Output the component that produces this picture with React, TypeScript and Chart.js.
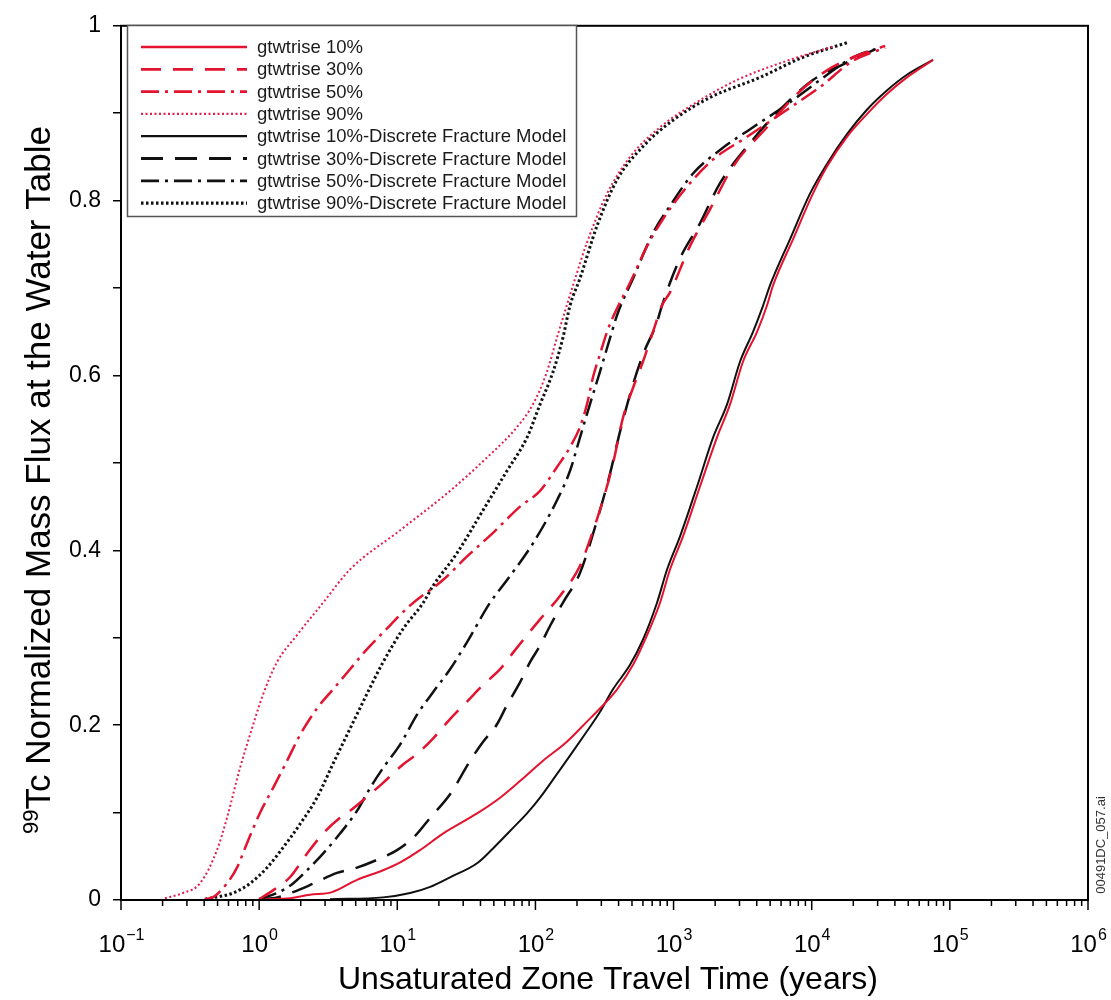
import { useEffect, useRef } from 'react';
import { Chart, registerables } from 'chart.js';

Chart.register(...registerables);

const FONT = '"Liberation Sans", Arial, Helvetica, sans-serif';
const RED = '#e4132f';
const RED_DOT = '#e2204f';
const BLACK = '#111111';

// [travel time (years), normalized mass flux]
const gtw10 = [
  [1.1, 0.001], [1.67, 0.002], [2.33, 0.006], [3.37, 0.009], [5.11, 0.023], [7.89, 0.034], [10.5, 0.043],
  [14.6, 0.057], [21.4, 0.076], [37.8, 0.099], [55.5, 0.117], [77.3, 0.136], [113, 0.159], [169, 0.181],
  [236, 0.204], [293, 0.219], [390, 0.241], [509, 0.269], [643, 0.303], [798, 0.34], [942, 0.378],
  [1170, 0.416], [1553, 0.473], [2060, 0.529], [2563, 0.567], [3185, 0.616], [4020, 0.65], [4746, 0.68],
  [5250, 0.703], [7330, 0.756], [10200, 0.808], [12900, 0.839], [18000, 0.873], [25100, 0.899],
  [35000, 0.922], [48900, 0.941], [75500, 0.961],
];
const gtw30 = [
  [1.0, 0.001], [1.26, 0.011], [1.67, 0.026], [2.22, 0.053], [2.9, 0.076], [3.85, 0.094], [4.55, 0.102],
  [6.35, 0.121], [7.89, 0.134], [11.0, 0.155], [13.9, 0.167], [18.2, 0.185], [24.1, 0.207], [32.0, 0.227],
  [41.8, 0.246], [55.5, 0.264], [68.9, 0.283], [86.9, 0.303], [108, 0.321], [151, 0.348], [210, 0.382],
  [248, 0.412], [308, 0.457], [364, 0.499], [431, 0.552], [509, 0.586], [601, 0.616], [710, 0.65],
  [824, 0.68], [942, 0.695], [1314, 0.748], [1835, 0.79], [2694, 0.839], [4746, 0.884], [7830, 0.922],
  [12900, 0.949], [19900, 0.964], [34000, 0.977],
];
const gtw50 = [
  [0.405, 0.001], [0.463, 0.003], [0.585, 0.019], [0.691, 0.037], [0.817, 0.065], [1.01, 0.099],
  [1.26, 0.128], [1.59, 0.159], [1.98, 0.189], [2.62, 0.219], [3.43, 0.241], [4.55, 0.264], [6.04, 0.287],
  [7.89, 0.306], [12.4, 0.337], [21.4, 0.366], [32.0, 0.393], [49.3, 0.42], [77.3, 0.45], [108, 0.468],
  [143, 0.495], [178, 0.518], [210, 0.541], [236, 0.567], [261, 0.598], [293, 0.624], [330, 0.65],
  [377, 0.672], [484, 0.706], [643, 0.748], [839, 0.779], [1252, 0.816], [1930, 0.847], [3405, 0.873],
  [6630, 0.904], [11500, 0.93], [19900, 0.96], [34000, 0.975],
];
const gtw90 = [
  [0.208, 0.002], [0.281, 0.008], [0.373, 0.019], [0.495, 0.057], [0.585, 0.094], [0.727, 0.151],
  [0.859, 0.189], [1.067, 0.235], [1.346, 0.272], [1.879, 0.303], [2.9, 0.34], [4.54, 0.378], [10.5, 0.423],
  [24.1, 0.468], [41.8, 0.502], [73.6, 0.541], [96, 0.567], [121, 0.604], [143, 0.643], [187, 0.703],
  [236, 0.752], [330, 0.808], [484, 0.85], [798, 0.884], [1383, 0.91], [2880, 0.938], [6620, 0.96],
  [14750, 0.977],
];
const gtw10dfm = [
  [3.26, 0.001], [7.89, 0.003], [12.4, 0.008], [17.3, 0.015], [24.1, 0.026], [37.8, 0.042], [49.3, 0.059],
  [65.5, 0.079], [86.9, 0.099], [108, 0.117], [143, 0.144], [187, 0.17], [236, 0.193], [293, 0.215],
  [364, 0.241], [484, 0.269], [601, 0.298], [759, 0.34], [897, 0.378], [1114, 0.416], [1479, 0.473],
  [1930, 0.529], [2438, 0.567], [3030, 0.616], [3760, 0.65], [4446, 0.68], [4990, 0.703], [6970, 0.756],
  [9720, 0.808], [12900, 0.842], [18000, 0.876], [25100, 0.904], [35000, 0.926], [48900, 0.944],
  [75500, 0.961],
];
const gtw30dfm = [
  [1.0, 0.001], [1.35, 0.003], [1.76, 0.009], [2.33, 0.017], [3.66, 0.031], [5.11, 0.037], [7.89, 0.049],
  [9.96, 0.057], [13.4, 0.073], [17.3, 0.094], [24.1, 0.121], [33.6, 0.159], [41.8, 0.181], [52.7, 0.201],
  [62.3, 0.223], [77.3, 0.249], [91.4, 0.272], [108, 0.291], [128, 0.314], [158, 0.34], [210, 0.374],
  [279, 0.434], [347, 0.488], [410, 0.536], [500, 0.586], [601, 0.624], [759, 0.661], [824, 0.68],
  [1114, 0.734], [1553, 0.774], [2170, 0.82], [3760, 0.87], [5890, 0.904], [10200, 0.938], [16900, 0.956],
  [28700, 0.973],
];
const gtw50dfm = [
  [1.0, 0.001], [1.35, 0.008], [1.76, 0.019], [2.22, 0.034], [2.9, 0.053], [3.85, 0.076], [5.11, 0.102],
  [6.35, 0.128], [7.89, 0.151], [10.5, 0.178], [13.9, 0.212], [18.2, 0.238], [24.1, 0.264], [32.0, 0.295],
  [46.9, 0.34], [62.3, 0.366], [96, 0.408], [143, 0.457], [178, 0.491], [210, 0.529], [248, 0.567],
  [293, 0.604], [347, 0.643], [396, 0.672], [509, 0.711], [710, 0.763], [942, 0.794], [1383, 0.831],
  [2170, 0.858], [3760, 0.884], [6630, 0.91], [11500, 0.938], [19900, 0.964], [31200, 0.975],
];
const gtw90dfm = [
  [0.405, 0.001], [0.647, 0.008], [0.859, 0.019], [1.14, 0.037], [1.49, 0.06], [1.98, 0.087], [2.62, 0.117],
  [3.43, 0.156], [4.55, 0.196], [6.04, 0.236], [7.89, 0.272], [11.0, 0.31], [15.4, 0.34], [18.1, 0.359],
  [27.1, 0.397], [41.8, 0.446], [62.3, 0.491], [86.9, 0.529], [108, 0.567], [134, 0.604], [158, 0.643],
  [178, 0.68], [210, 0.711], [279, 0.771], [390, 0.824], [601, 0.862], [991, 0.892], [1835, 0.918],
  [4225, 0.941], [8650, 0.964], [18300, 0.981],
];

const seriesLabels = [
  'gtwtrise 10%',
  'gtwtrise 30%',
  'gtwtrise 50%',
  'gtwtrise 90%',
  'gtwtrise 10%-Discrete Fracture Model',
  'gtwtrise 30%-Discrete Fracture Model',
  'gtwtrise 50%-Discrete Fracture Model',
  'gtwtrise 90%-Discrete Fracture Model',
];
const seriesData = [gtw10, gtw30, gtw50, gtw90, gtw10dfm, gtw30dfm, gtw50dfm, gtw90dfm];

const xTickExponents = [-1, 0, 1, 2, 3, 4, 5, 6];
const yMin = 0;
const yMax = 1;
const yStep = 0.1;

const xTitle = 'Unsaturated Zone Travel Time (years)';
const yTitleSup = '99';
const yTitleMain = 'Tc Normalized Mass Flux at the Water Table';
const sideNote = '00491DC_057.ai';

type Style = { color: string; dash: number[]; width: number };
const styles: Style[] = [
  { color: RED, dash: [], width: 2 },
  { color: RED, dash: [20, 12], width: 2.5 },
  { color: RED, dash: [18, 6, 3, 6], width: 2.5 },
  { color: RED_DOT, dash: [2, 2.5], width: 2 },
  { color: BLACK, dash: [], width: 2 },
  { color: BLACK, dash: [22, 12], width: 2.5 },
  { color: BLACK, dash: [18, 6, 3, 6], width: 2.5 },
  { color: BLACK, dash: [2.5, 2.5], width: 3 },
];

const decorPlugin = {
  id: 'decor',
  afterDraw(chart: any) {
    const ctx: CanvasRenderingContext2D = chart.ctx;
    const { left, right, top, bottom } = chart.chartArea;
    const xs = chart.scales.x;
    ctx.save();

    // frame
    ctx.strokeStyle = '#000';
    ctx.lineWidth = 2;
    ctx.setLineDash([]);
    ctx.strokeRect(left, top, right - left, bottom - top);

    // x ticks (log)
    ctx.lineWidth = 1.5;
    for (let i = 0; i < xTickExponents.length; i++) {
      const e = xTickExponents[i];
      const base = Math.pow(10, e);
      const px = xs.getPixelForValue(base);
      ctx.beginPath();
      ctx.moveTo(px, bottom);
      ctx.lineTo(px, bottom + 10);
      ctx.stroke();
      if (i < xTickExponents.length - 1) {
        for (let m = 2; m <= 9; m++) {
          const mx = xs.getPixelForValue(base * m);
          ctx.beginPath();
          ctx.moveTo(mx, bottom);
          ctx.lineTo(mx, bottom + 6);
          ctx.stroke();
        }
      }
      // label 10^e
      const main = '10';
      const sup = e < 0 ? '\u2212' + Math.abs(e) : String(e);
      ctx.font = `24px ${FONT}`;
      const wMain = ctx.measureText(main).width;
      ctx.font = `16px ${FONT}`;
      const wSup = ctx.measureText(sup).width;
      const start = px - (wMain + wSup) / 2;
      ctx.fillStyle = '#000';
      ctx.textAlign = 'left';
      ctx.textBaseline = 'alphabetic';
      ctx.font = `24px ${FONT}`;
      ctx.fillText(main, start, 952);
      ctx.font = `16px ${FONT}`;
      ctx.fillText(sup, start + wMain + 1, 940);
    }

    // x title
    ctx.font = `32px ${FONT}`;
    ctx.textAlign = 'center';
    ctx.textBaseline = 'alphabetic';
    ctx.fillText(xTitle, 608, 989);

    // y title (rotated)
    ctx.save();
    ctx.translate(38, 480);
    ctx.rotate(-Math.PI / 2);
    ctx.font = `22px ${FONT}`;
    const wS = ctx.measureText(yTitleSup).width;
    ctx.font = `35px ${FONT}`;
    const wM = ctx.measureText(yTitleMain).width;
    const s0 = -(wS + wM) / 2;
    ctx.textAlign = 'left';
    ctx.textBaseline = 'alphabetic';
    ctx.font = `22px ${FONT}`;
    ctx.fillText(yTitleSup, s0, 0);
    ctx.font = `35px ${FONT}`;
    ctx.fillText(yTitleMain, s0 + wS, 12);
    ctx.restore();

    // side note
    ctx.save();
    ctx.translate(1101, 845);
    ctx.rotate(-Math.PI / 2);
    ctx.font = `13px ${FONT}`;
    ctx.fillStyle = '#333';
    ctx.textAlign = 'center';
    ctx.textBaseline = 'middle';
    ctx.fillText(sideNote, 0, 0);
    ctx.restore();

    // legend
    ctx.fillStyle = '#fff';
    ctx.fillRect(128, 26, 448, 190);
    ctx.strokeStyle = '#555';
    ctx.lineWidth = 1.5;
    ctx.strokeRect(127.5, 25.5, 449, 191);
    for (let i = 0; i < seriesLabels.length; i++) {
      const y = 47 + i * 22.3;
      const st = styles[i];
      ctx.strokeStyle = st.color;
      ctx.lineWidth = st.width + 0.3;
      ctx.setLineDash(st.dash);
      ctx.beginPath();
      ctx.moveTo(141, y);
      ctx.lineTo(247, y);
      ctx.stroke();
      ctx.setLineDash([]);
      ctx.fillStyle = '#1a1a1a';
      ctx.font = `18.5px ${FONT}`;
      ctx.textAlign = 'left';
      ctx.textBaseline = 'middle';
      ctx.fillText(seriesLabels[i], 257, y + 1);
    }
    ctx.restore();
  },
};

export default function App() {
  const ref = useRef<HTMLCanvasElement | null>(null);
  useEffect(() => {
    document.body.style.margin = '0';
    if (!ref.current) return;
    const datasets = seriesData.map((pts, i) => ({
      label: seriesLabels[i],
      data: pts.map(([x, y]) => ({ x, y })),
      showLine: true,
      borderColor: styles[i].color,
      borderWidth: styles[i].width,
      borderDash: styles[i].dash,
      borderCapStyle: 'butt' as const,
      pointRadius: 0,
      pointHoverRadius: 0,
      fill: false,
      cubicInterpolationMode: 'monotone' as const,
    }));
    const chart = new Chart(ref.current, {
      type: 'scatter',
      data: { datasets },
      options: {
        animation: false,
        responsive: false,
        maintainAspectRatio: false,
        layout: { padding: { top: 17, right: 23, left: 0, bottom: 0 } },
        plugins: { legend: { display: false }, tooltip: { enabled: false }, title: { display: false } },
        scales: {
          x: {
            type: 'logarithmic',
            min: 0.1,
            max: 1e6,
            ticks: { display: false },
            grid: { display: false },
            border: { display: false },
            afterFit: (s: any) => {
              s.height = 100;
            },
          },
          y: {
            type: 'linear',
            min: yMin,
            max: yMax,
            ticks: {
              stepSize: yStep,
              color: '#000',
              padding: 12,
              font: { family: FONT, size: 23 },
              callback: (v: any) => {
                const n = Math.round(Number(v) * 10);
                if (n % 2 !== 0) return '';
                if (n === 0) return '0';
                if (n === 10) return '1';
                return (n / 10).toString();
              },
            },
            grid: { drawOnChartArea: false, drawTicks: true, tickLength: 8, color: '#000', lineWidth: 1.5 },
            border: { display: false },
            afterFit: (s: any) => {
              s.width = 121;
            },
          },
        },
      },
      plugins: [decorPlugin],
    });
    return () => chart.destroy();
  }, []);
  return (
    <div style={{ width: 1111, height: 1000, position: 'relative', background: '#fff' }}>
      <canvas ref={ref} width={1111} height={1000} style={{ width: 1111, height: 1000, display: 'block' }} />
    </div>
  );
}
